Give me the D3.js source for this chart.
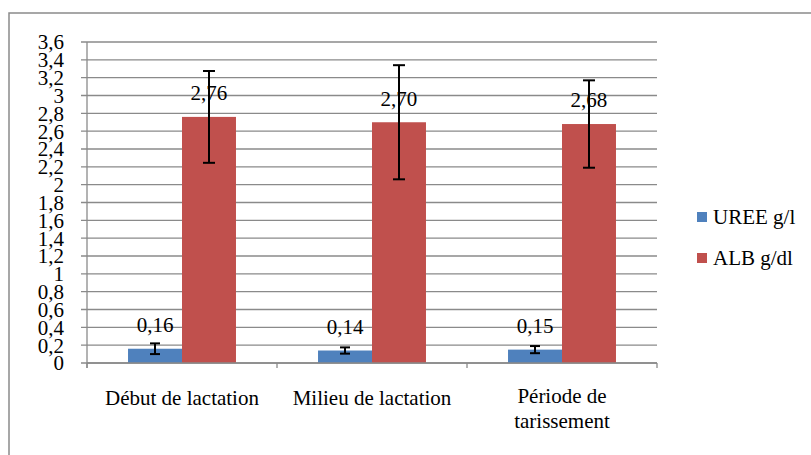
<!DOCTYPE html>
<html><head><meta charset="utf-8">
<script src="https://cdn.jsdelivr.net/npm/d3@7"></script>
<style>
body{margin:0;background:#fff}
svg{display:block}
</style>
</head><body>
<svg id="c" width="811" height="455"></svg>
<script>
const categories = [["Début de lactation"], ["Milieu de lactation"], ["Période de", "tarissement"]];
const seriesNames = ["UREE g/l", "ALB g/dl"];
const ureeValues = [0.16, 0.14, 0.15];
const albValues = [2.76, 2.70, 2.68];
const ureeErrors = [0.06, 0.035, 0.04];
const albErrors = [0.515, 0.64, 0.49];
const ureeLabels = ["0,16", "0,14", "0,15"];
const albLabels = ["2,76", "2,70", "2,68"];
const yTicks = [0,0.2,0.4,0.6,0.8,1,1.2,1.4,1.6,1.8,2,2.2,2.4,2.6,2.8,3,3.2,3.4,3.6];
const colors = ["#4F81BD", "#C0504D"];

const svg = d3.select("#c")
  .attr("font-family", "Liberation Serif, Times New Roman, DejaVu Serif, serif")
  .attr("font-size", 21);
const grid = "#8a8a8a";

svg.append("rect").attr("x", 9).attr("y", 13).attr("width", 830).attr("height", 470)
  .attr("fill", "none").attr("stroke", grid).attr("stroke-width", 1.5);

const y = d3.scaleLinear().domain([0, 3.6]).range([363, 42]);
const x = d3.scaleBand().domain(d3.range(categories.length)).range([87, 657]);
const xs = d3.scaleBand().domain(d3.range(seriesNames.length)).range([0, x.bandwidth()]).paddingOuter(0.76);

svg.append("g").selectAll("line").data(yTicks).join("line")
  .attr("x1", 81).attr("x2", 657).attr("y1", d => y(d)).attr("y2", d => y(d))
  .attr("stroke", grid).attr("stroke-width", 1.3);

svg.append("line").attr("x1", 87).attr("x2", 87).attr("y1", y(3.6)).attr("y2", y(0) + 5)
  .attr("stroke", grid).attr("stroke-width", 1.3);

svg.append("g").selectAll("text").data(yTicks).join("text")
  .attr("x", 64).attr("y", d => y(d)).attr("dy", "0.35em").attr("text-anchor", "end")
  .attr("fill", "#000")
  .text(d => String(d).replace(".", ","));

const catEdges = d3.range(categories.length + 1).map(i => i < categories.length ? x(i) : x(categories.length - 1) + x.bandwidth());
svg.append("g").selectAll("line").data(catEdges).join("line")
  .attr("x1", d => d).attr("x2", d => d).attr("y1", y(0)).attr("y2", y(0) + 5)
  .attr("stroke", grid).attr("stroke-width", 1.3);

const series = [
  {vals: ureeValues, errs: ureeErrors, labels: ureeLabels, cap: 10},
  {vals: albValues, errs: albErrors, labels: albLabels, cap: 12}
];

series.forEach((s, si) => {
  svg.append("g").selectAll("rect").data(s.vals).join("rect")
    .attr("x", (d, i) => x(i) + xs(si)).attr("width", xs.bandwidth())
    .attr("y", d => y(d)).attr("height", d => y(0) - y(d))
    .attr("fill", colors[si]);
});

svg.append("line").attr("x1", 87).attr("x2", 657).attr("y1", y(0)).attr("y2", y(0))
  .attr("stroke", grid).attr("stroke-width", 1.3);

series.forEach((s, si) => {
  const g = svg.append("g");
  g.selectAll("text").data(s.vals).join("text")
    .attr("x", (d, i) => x(i) + xs(si) + xs.bandwidth() / 2)
    .attr("y", d => y(d) - 24).attr("dy", "0.35em").attr("text-anchor", "middle")
    .attr("fill", "#000")
    .text((d, i) => s.labels[i]);
  s.vals.forEach((v, i) => {
    const cx = x(i) + xs(si) + xs.bandwidth() / 2;
    const e = s.errs[i];
    g.append("line").attr("x1", cx).attr("x2", cx).attr("y1", y(v + e)).attr("y2", y(v - e))
      .attr("stroke", "#000").attr("stroke-width", 2);
    [v + e, v - e].forEach(t => {
      g.append("line").attr("x1", cx - s.cap / 2).attr("x2", cx + s.cap / 2)
        .attr("y1", y(t)).attr("y2", y(t)).attr("stroke", "#000").attr("stroke-width", 2);
    });
  });
});

categories.forEach((lines, i) => {
  const t = svg.append("text").attr("text-anchor", "middle").attr("fill", "#000");
  lines.forEach((ln, li) => {
    t.append("tspan").attr("x", x(i) + x.bandwidth() / 2)
      .attr("y", (lines.length > 1 ? 403 : 405) + li * 25).text(ln);
  });
});

seriesNames.forEach((n, i) => {
  const cy = 217 + i * 41;
  svg.append("rect").attr("x", 697).attr("y", cy - 5).attr("width", 10).attr("height", 10).attr("fill", colors[i]);
  svg.append("text").attr("x", 713).attr("y", cy).attr("dy", "0.35em").attr("fill", "#000").text(n);
});
</script>
</body></html>
